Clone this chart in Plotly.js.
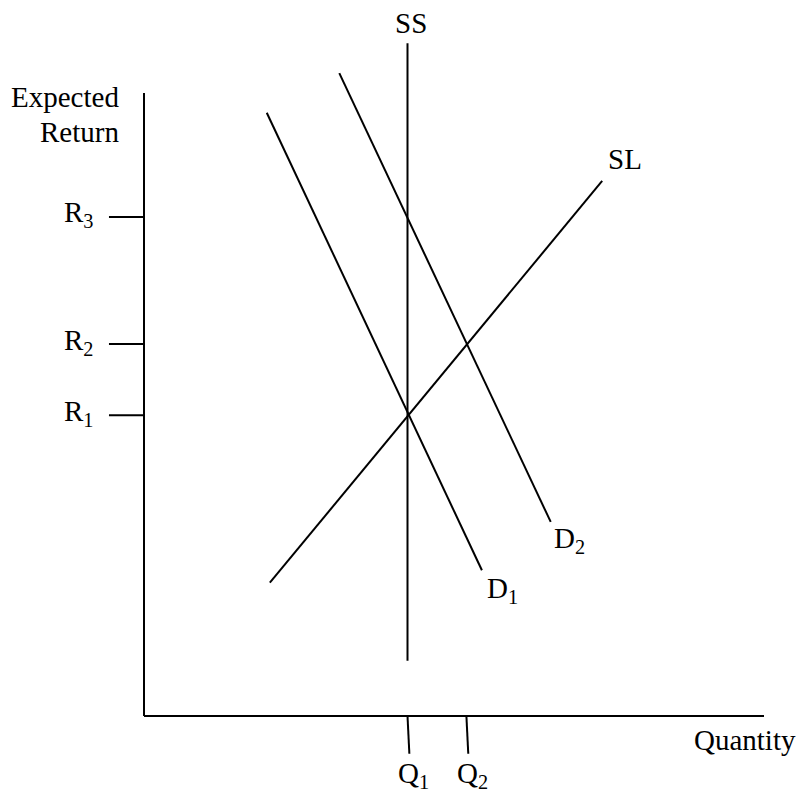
<!DOCTYPE html>
<html>
<head>
<meta charset="utf-8">
<script src="https://cdn.plot.ly/plotly-3.0.1.min.js"></script>
<style>
  html, body { margin: 0; padding: 0; background: #fff; }
  #chart { width: 803px; height: 799px; }
</style>
</head>
<body>
<div id="chart"></div>
<script>
// equilibrium points (arbitrary units)
const Q1 = 4.25, Q2 = 5.2;
const R1 = 4.85, R2 = 6.0, R3 = 8.05;

// curves: [start, end]
const ssX = [Q1, Q1];
const ssY = [0.89, 10.85];
const slX = [2.03, 7.39];
const slY = [2.15, 8.63];
const d1X = [1.98, 5.45];
const d1Y = [9.73, 2.35];
const d2X = [3.15, 6.56];
const d2Y = [10.37, 3.13];

// axes of the drawing
const axisTop = 10.05;
const axisRight = 10;

const rLevels = [R1, R2, R3];
const rLabels = ["R<sub>1</sub>", "R<sub>2</sub>", "R<sub>3</sub>"];
const qLevels = [Q1, Q2];
const qLabels = ["Q<sub>1</sub>", "Q<sub>2</sub>"];

const FONT = { family: "Liberation Serif, Times New Roman, serif", size: 29, color: "#000" };

function seg(x, y) {
  return {
    x: x, y: y,
    type: "scatter", mode: "lines",
    line: { color: "#000", width: 2 },
    hoverinfo: "skip",
  };
}

const traces = [
  seg([0, 0], [0, axisTop]),          // y axis
  seg([0, axisRight], [0, 0]),        // x axis
  seg(ssX, ssY),
  seg(slX, slY),
  seg(d1X, d1Y),
  seg(d2X, d2Y),
];

// short tick marks for R levels (left of y axis)
rLevels.forEach((r) => traces.push(seg([-0.565, 0], [r, r])));
// slightly slanted tick marks for Q levels (below x axis)
qLevels.forEach((q) => traces.push(seg([q, q + 0.03], [0, -0.61])));

function label(text, x, y, extra) {
  return Object.assign({
    text: text, x: x, y: y, xref: "x", yref: "y",
    showarrow: false, font: FONT,
  }, extra || {});
}

const annotations = [
  label("SS", 4.31, 11.18),
  label("SL", 7.76, 8.98),
  label("D<sub>2</sub>", 6.86, 2.84),
  label("D<sub>1</sub>", 5.79, 2.03),
  // y axis title, two lines set apart like the original
  label("Expected", -0.37, 9.98, { xanchor: "right" }),
  label("Return", -0.37, 9.42, { xanchor: "right" }),
  label("Quantity", 9.69, -0.39),
];
rLevels.forEach((r, i) => annotations.push(label(rLabels[i], -0.79, r + 0.04, { xanchor: "right" })));
qLevels.forEach((q, i) => annotations.push(label(qLabels[i], q + 0.1, -0.95)));

const layout = {
  width: 803,
  height: 799,
  margin: { l: 0, r: 0, t: 0, b: 0 },
  paper_bgcolor: "#fff",
  plot_bgcolor: "#fff",
  showlegend: false,
  // 62 px per unit, origin at pixel (144, 716)
  xaxis: { range: [-144 / 62, 659 / 62], visible: false, fixedrange: true },
  yaxis: { range: [-83 / 62, 716 / 62], visible: false, fixedrange: true },
  annotations: annotations,
};

Plotly.newPlot("chart", traces, layout, { staticPlot: true });
</script>
</body>
</html>
